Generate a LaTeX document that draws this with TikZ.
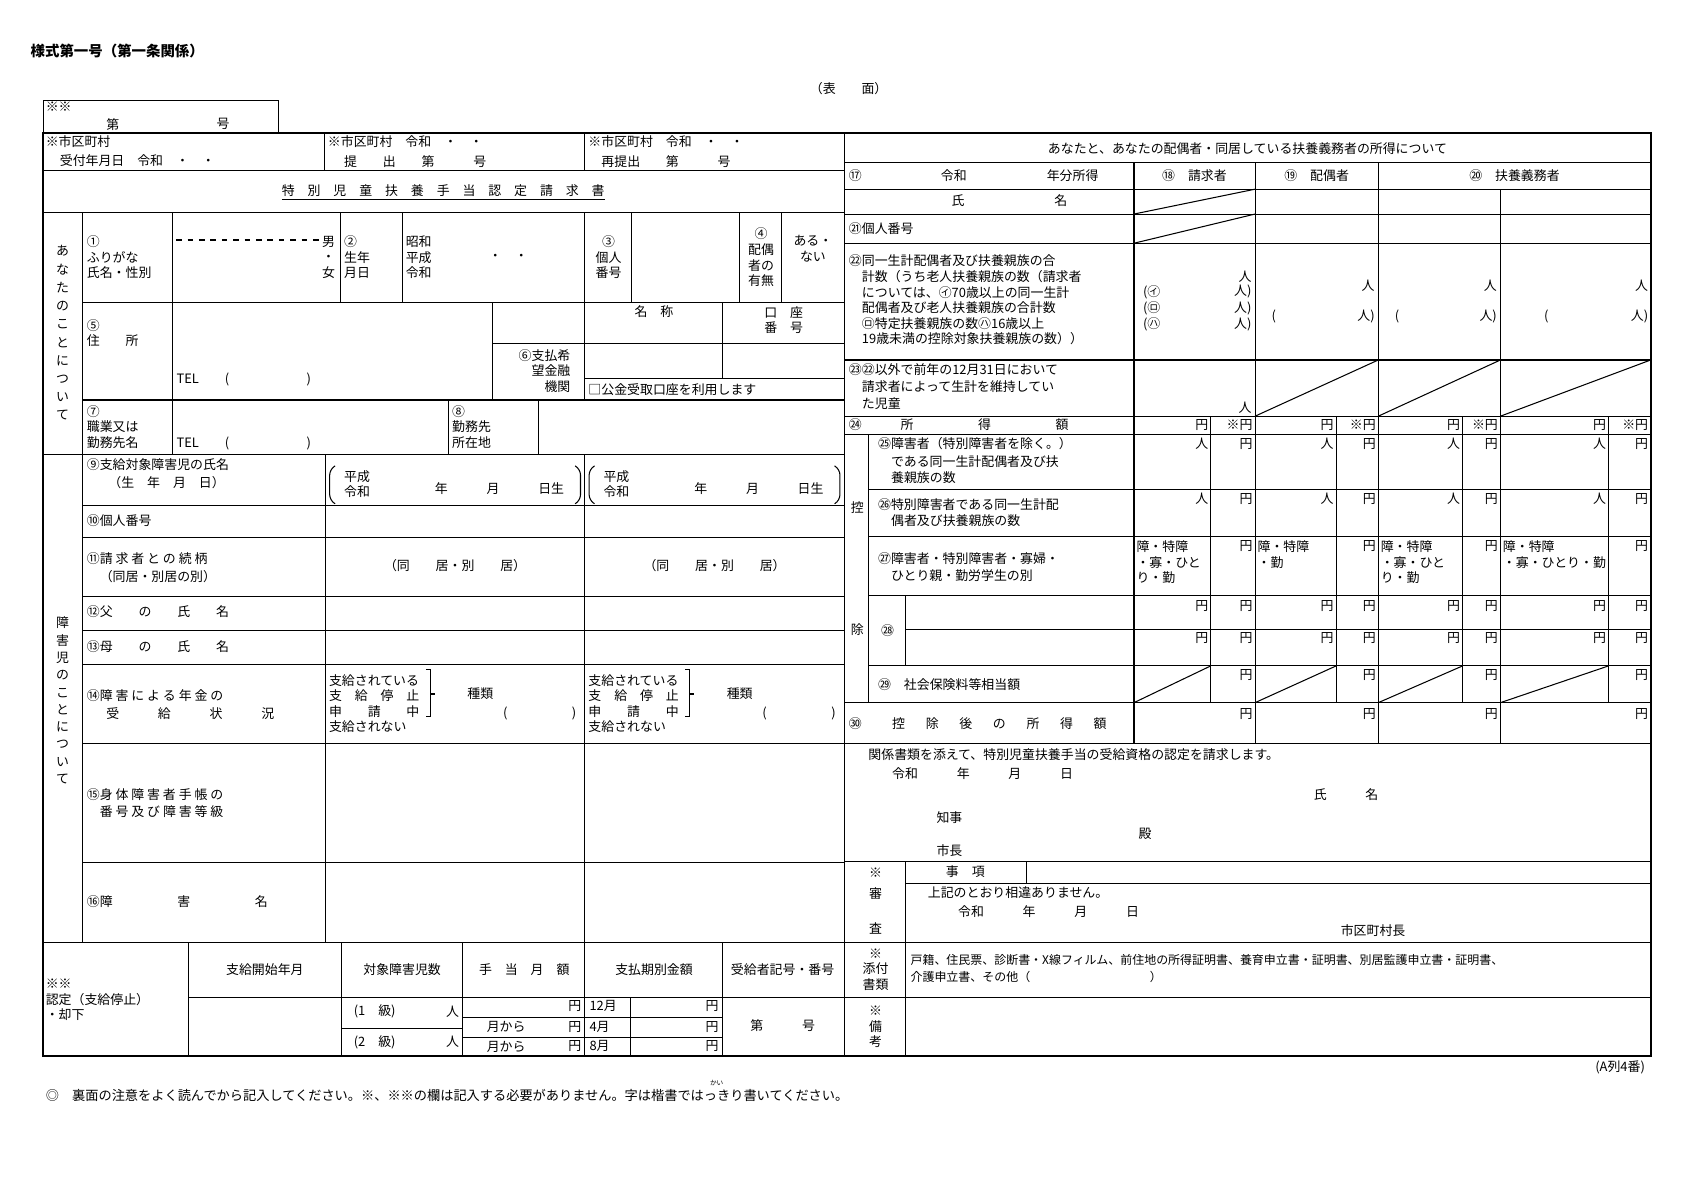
\documentclass[tikz,border=0pt]{standalone}
\usepackage{fontspec}
\setmainfont{Noto Sans CJK JP}
\newcommand{\fs}{\fontsize{6.8}{8.2}\selectfont}
\newcommand{\gp}{\hspace{1.6em}}
\tikzset{
  rule/.style={line width=0.55pt},
  frame/.style={line width=0.9pt},
  t/.style={inner sep=0pt, font=\fs, align=left, anchor=west},
  tc/.style={inner sep=0pt, font=\fs, align=center},
  vt/.style={inner sep=0pt, font=\fontsize{6.8}{8.5}\selectfont, align=center},
}
\begin{document}
\begin{tikzpicture}[x=0.02cm, y=-0.02cm]
\useasboundingbox[fill=white] (0,0) rectangle (1568,1093);

% ---- frame and main lines
\draw[rule] (40,93) rectangle (258,123);
\draw[frame] (40,123) rectangle (1527,977);
\draw[rule] (781,123) -- (781,977);
\draw[rule] (40,158) -- (781,158) (300,123) -- (300,158) (541,123) -- (541,158);
\draw[rule] (40,197) -- (781,197) (76,197) -- (76,872);
\draw[rule] (160,197) -- (160,420) (315,197) -- (315,280) (372,197) -- (372,280)
  (541,197) -- (541,370) (584,197) -- (584,280) (684,197) -- (684,280) (723,197) -- (723,280);
\draw[rule] (76,280) -- (781,280) (456,280) -- (456,370) (456,318) -- (781,318)
  (668,280) -- (668,350) (541,350) -- (781,350) (76,370) -- (781,370);
\draw[rule] (415,370) -- (415,420) (498,370) -- (498,420) (40,420) -- (781,420);
\foreach \y in {468,497,552,583,615,688,798} \draw[rule] (76,\y) -- (781,\y);
\draw[rule] (301,420) -- (301,872) (541,420) -- (541,872);
\draw[rule] (40,872) -- (1527,872) (174,923) -- (1527,923);
\foreach \x in {174,316,428,541,668} \draw[rule] (\x,872) -- (\x,977);
\draw[rule] (428,941) -- (668,941) (428,960) -- (668,960) (316,951) -- (428,951) (583,923) -- (583,977);

% right half
\foreach \y in {150,175,198,225,333,385,402,650,688,797} \draw[rule] (781,\y) -- (1527,\y);
\foreach \x in {1049,1161,1275} \draw[rule] (\x,150) -- (\x,688);
\draw[rule] (1388,175) -- (1388,688);
\foreach \x in {1120,1236,1353,1488} \draw[rule] (\x,385) -- (\x,650);
\draw[rule] (803,402) -- (803,650);
\foreach \y in {453,496,551,616} \draw[rule] (803,\y) -- (1527,\y);
\draw[rule] (838,582) -- (1527,582) (838,551) -- (838,616);
\draw[rule] (838,797) -- (838,977) (838,817) -- (1527,817) (950,797) -- (950,817);
% diagonals
\draw[rule] (1049,198) -- (1161,175) (1049,225) -- (1161,198);
\draw[rule] (1161,385) -- (1275,333) (1275,385) -- (1388,333) (1388,385) -- (1527,333);
\draw[rule] (1049,650) -- (1120,616) (1161,650) -- (1236,616) (1275,650) -- (1353,616) (1388,650) -- (1488,616);

% ---- heading
\node[t, font=\fontsize{7.6}{9}\selectfont\bfseries] (head) at (28,47) {様式第一号（第一条関係）};
\node[tc] (omote) at (785,82) {（表　　面）};
\node[t] (kome2) at (42,99) {※※};
\node[t] (dai) at (98,115) {第};
\node[t] (go) at (200,115) {号};
\node[t] (uke1) at (42,131) {※市区町村};
\node[t] (uke2) at (55,149) {受付年月日　令和　・　・};
\node[t] (tei1) at (303,131) {※市区町村　令和　・　・};
\node[t] (tei2) at (318,149) {提　　出　　第　　　号};
\node[t] (sai1) at (544,131) {※市区町村　令和　・　・};
\node[t] (sai2) at (556,149) {再提出　　第　　　号};
\node[tc] (title) at (410,178) {\underline{特　別　児　童　扶　養　手　当　認　定　請　求　書}};

% ---- あなたのことについて
\node[vt, font=\fontsize{6.8}{9.6}\selectfont] (anata) at (58,308) {あ\\な\\た\\の\\こ\\と\\に\\つ\\い\\て};
\node[t] (n1) at (80,238) {①\\ふりがな\\氏名・性別};
\draw[rule, dashed] (163,222) -- (298,222);
\node[tc] (otoko) at (304,238) {男\\・\\女};
\node[t] (n2) at (318,238) {②\\生年\\月日};
\node[t] (gengo) at (375,238) {昭和\\平成\\令和};
\node[t] (ymd) at (452,238) {・　・};
\node[tc] (n3) at (563,238) {③\\個人\\番号};
\node[tc] (n4) at (704,238) {④\\配偶\\者の\\有無};
\node[tc] (aru) at (752,230) {ある・\\ない};
\node[t] (n5) at (80,308) {⑤\\住　　所};
\node[t] (tel1) at (163,351) {TEL　　(　　　　　　)};
\node[tc] (meisho) at (605,288) {名　称};
\node[tc] (koza) at (725,296) {口　座\\番　号};
\node[tc, align=right, anchor=east] (n6) at (528,343) {⑥支払希\\望金融\\機関};
\node[t] (kokin) at (544,360) {□公金受取口座を利用します};
\node[t] (n7) at (80,395) {⑦\\職業又は\\勤務先名};
\node[t] (tel2) at (163,410) {TEL　　(　　　　　　)};
\node[t] (n8) at (418,395) {⑧\\勤務先\\所在地};

% ---- 障害児のことについて
\node[vt, font=\fontsize{6.8}{9.1}\selectfont] (shogaiji) at (58,648) {障\\害\\児\\の\\こ\\と\\に\\つ\\い\\て};
\node[t] (n9) at (80,430) {⑨支給対象障害児の氏名};
\node[t] (n9b) at (100,446) {（生　年　月　日）};
\foreach \o [count=\i] in {0,240} {
  \draw[rule, rounded corners=3pt] (\o+310,431) -- (\o+305,434) -- (\o+305,463) -- (\o+310,466);
  \draw[rule, rounded corners=3pt] (\o+532,431) -- (\o+537,434) -- (\o+537,463) -- (\o+532,466);
  \node[t] (bd\i) at (\o+318,448) {平成\\令和};
  \node[t] (bdy\i) at (\o+402,452) {年　　　月　　　日生};
  \node[tc] (dokyo\i) at (\o+421,523) {（同　　居・別　　居）};
  \node[t] (nenkin\i) at (\o+304,651) {支給されている\\支　給　停　止\\申　　請　　中\\支給されない};
  \draw[rule] (\o+394,619) -- (\o+398,619) -- (\o+398,663) -- (\o+394,663) (\o+398,642) -- (\o+402,642);
  \node[t] (shurui\i) at (\o+432,642) {種類};
  \node[t] (kakko\i) at (\o+465,660) {(　　　　　)};
}
\node[t] (n10) at (80,482) {⑩個人番号};
\node[t] (n11) at (80,517) {⑪請 求 者 と の 続 柄};
\node[t] (n11b) at (92,533) {（同居・別居の別）};
\node[t] (n12) at (80,566) {⑫父　　の　　氏　　名};
\node[t] (n13) at (80,598) {⑬母　　の　　氏　　名};
\node[t] (n14) at (80,643) {⑭障 害 に よ る 年 金 の};
\node[t] (n14b) at (98,660) {受　　　給　　　状　　　況};
\node[t] (n15) at (80,735) {⑮身 体 障 害 者 手 帳 の};
\node[t] (n15b) at (92,751) {番 号 及 び 障 害 等 級};
\node[t] (n16) at (80,834) {⑯障　　　　　害　　　　　名};

% ---- bottom block
\node[t] (nintei) at (42,925) {※※\\認定（支給停止）\\・却下};
\node[tc] (h1) at (245,897) {支給開始年月};
\node[tc] (h2) at (372,897) {対象障害児数};
\node[tc] (h3) at (485,897) {手　当　月　額};
\node[tc] (h4) at (605,897) {支払期別金額};
\node[tc] (h5) at (724,897) {受給者記号・番号};
\node[t] (kyu1) at (327,936) {(1　級)};
\node[t, anchor=east] (nin1) at (425,936) {人};
\node[t] (kyu2) at (327,964) {(2　級)};
\node[t, anchor=east] (nin2) at (425,964) {人};
\node[t, anchor=east] (en1) at (538,931) {円};
\node[t] (kara1) at (450,950) {月から};
\node[t, anchor=east] (en2) at (538,950) {円};
\node[t] (kara2) at (450,968) {月から};
\node[t, anchor=east] (en3) at (538,968) {円};
\node[t] (m12) at (545,931) {12月};
\node[t] (m4) at (545,950) {4月};
\node[t] (m8) at (545,968) {8月};
\node[t, anchor=east] (en4) at (665,931) {円};
\node[t, anchor=east] (en5) at (665,950) {円};
\node[t, anchor=east] (en6) at (665,968) {円};
\node[tc] (daigo) at (724,949) {第　　　号};

% ---- 所得
\node[tc] (shotoku) at (1154,137) {あなたと、あなたの配偶者・同居している扶養義務者の所得について};
\node[t] (n17) at (785,162) {⑰};
\node[t] (reiwa) at (870,162) {令和};
\node[t] (nenbun) at (968,162) {年分所得};
\node[tc] (n18) at (1105,162) {⑱　請求者};
\node[tc] (n19) at (1218,162) {⑲　配偶者};
\node[tc] (n20) at (1401,162) {⑳　扶養義務者};
\node[t] (shi) at (880,186) {氏};
\node[t] (mei) at (975,186) {名};
\node[t] (n21) at (785,211) {㉑個人番号};
\node[t] (n22) at (785,241) {㉒同一生計配偶者及び扶養親族の合};
\node[t, anchor=north west] (n22b) at (797,250) {計数（うち老人扶養親族の数（請求者\\については、㋑70歳以上の同一生計\\配偶者及び老人扶養親族の合計数\\㋺特定扶養親族の数㋩16歳以上\\19歳未満の控除対象扶養親族の数））};
\node[t, anchor=east] (p18) at (1158,256) {人};
\foreach \k/\y [count=\i] in {㋑/270,㋺/285,㋩/300} {
  \node[t] (q\i) at (1057,\y) {(\k};
  \node[t, anchor=east] (r\i) at (1158,\y) {人)};
}
\foreach \l/\r [count=\i] in {1176/1272,1290/1385,1428/1525} {
  \node[t, anchor=east] (pp\i) at (\r,264) {人};
  \node[t] (pl\i) at (\l,293) {(};
  \node[t, anchor=east] (pr\i) at (\r,293) {人)};
}
\node[t] (n23) at (785,342) {㉓㉒以外で前年の12月31日において};
\node[t] (n23b) at (797,358) {請求者によって生計を維持してい};
\node[t] (n23c) at (797,373) {た児童};
\node[t, anchor=east] (p23) at (1158,377) {人};
\node[t] (n24) at (785,393) {㉔　　　所　　　　　得　　　　　額};
\node[vt] (ko) at (793,470) {控};
\node[vt] (jo) at (793,582) {除};
\node[t] (n25) at (812,410) {㉕障害者（特別障害者を除く。）};
\node[t] (n25b) at (824,427) {である同一生計配偶者及び扶};
\node[t] (n25c) at (824,442) {養親族の数};
\node[t] (n26) at (812,467) {㉖特別障害者である同一生計配};
\node[t] (n26b) at (824,482) {偶者及び扶養親族の数};
\node[t] (n27) at (812,517) {㉗障害者・特別障害者・寡婦・};
\node[t] (n27b) at (824,532) {ひとり親・勤労学生の別};
\node[tc] (n28) at (821,583) {㉘};
\node[t] (n29) at (812,633) {㉙　社会保険料等相当額};
\node[t] (n30) at (785,669) {㉚};
\node[t] (n30b) at (825,669) {控\gp 除\gp 後\gp の\gp 所\gp 得\gp 額};
\foreach \a/\b/\c [count=\i] in {1049/1120/1161,1161/1236/1275,1275/1353/1388,1388/1488/1527} {
  \node[t, anchor=north east] (e24\i) at (\b-2,388) {円};
  \node[t, anchor=north east] (k24\i) at (\c-2,388) {※円};
  \node[t, anchor=north east] (p25\i) at (\b-2,405) {人};
  \node[t, anchor=north east] (e25\i) at (\c-2,405) {円};
  \node[t, anchor=north east] (p26\i) at (\b-2,456) {人};
  \node[t, anchor=north east] (e26\i) at (\c-2,456) {円};
  \node[t, anchor=north east] (e27\i) at (\c-2,500) {円};
  \node[t, anchor=north east] (a28\i) at (\b-2,555) {円};
  \node[t, anchor=north east] (b28\i) at (\c-2,555) {円};
  \node[t, anchor=north east] (c28\i) at (\b-2,585) {円};
  \node[t, anchor=north east] (d28\i) at (\c-2,585) {円};
  \node[t, anchor=north east] (e29\i) at (\c-2,619) {円};
  \node[t, anchor=north east] (e30\i) at (\c-2,655) {円};
}
\node[t, anchor=north west] (s18) at (1051,500) {障・特障\\・寡・ひと\\り・勤};
\node[t, anchor=north west] (s19) at (1163,500) {障・特障\\・勤};
\node[t, anchor=north west] (s20) at (1277,500) {障・特障\\・寡・ひと\\り・勤};
\node[t, anchor=north west] (s21) at (1390,500) {障・特障\\・寡・ひとり・勤};

% ---- 請求文・審査
\node[t] (seikyu) at (803,698) {関係書類を添えて、特別児童扶養手当の受給資格の認定を請求します。};
\node[t] (hizuke) at (825,716) {令和　　　年　　　月　　　日};
\node[t] (shimei) at (1215,735) {氏　　　名};
\node[t] (chiji) at (866,756) {知事};
\node[t] (tono) at (1053,771) {殿};
\node[t] (shicho) at (866,787) {市長};
\node[tc] (shin1) at (810,807) {※};
\node[tc] (shin2) at (810,827) {審};
\node[tc] (shin3) at (810,859) {査};
\node[tc] (jiko) at (893,806) {事　項};
\node[t] (soi) at (858,826) {上記のとおり相違ありません。};
\node[t] (hizuke2) at (886,843) {令和　　　年　　　月　　　日};
\node[t] (kucho) at (1240,861) {市区町村長};
\node[tc] (tenpu) at (810,897) {※\\添付\\書類};
\node[t, font=\fontsize{6.3}{8}\selectfont] (tenpu1) at (842,888) {戸籍、住民票、診断書・X線フィルム、前住地の所得証明書、養育申立書・証明書、別居監護申立書・証明書、};
\node[t, font=\fontsize{6.3}{8}\selectfont] (tenpu2) at (842,904) {介護申立書、その他（　　　　　　　　　　）};
\node[tc] (biko) at (810,950) {※\\備\\考};

% ---- footer
\node[t, anchor=east] (a4) at (1522,987) {(A列4番)};
\node[t, font=\fontsize{6.95}{8}\selectfont] (chui) at (42,1013) {◎　裏面の注意をよく読んでから記入してください。※、※※の欄は記入する必要がありません。字は楷書ではっきり書いてください。};
\node[tc, font=\fontsize{3.5}{4}\selectfont] (kai) at (663,1002) {かい};
\end{tikzpicture}
\end{document}
